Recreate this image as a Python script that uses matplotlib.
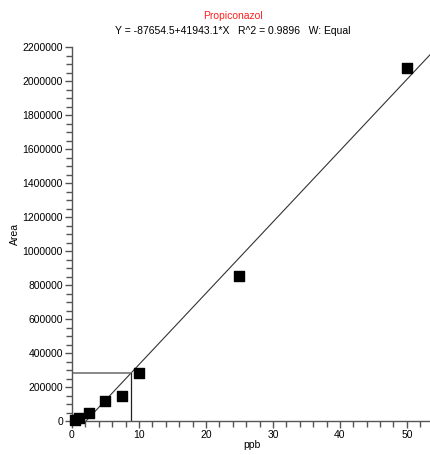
import numpy as np
import matplotlib
matplotlib.use("Agg")
import matplotlib.pyplot as plt
from matplotlib.ticker import MultipleLocator

plt.rcParams["font.family"] = ["Liberation Sans", "DejaVu Sans"]

# Calibration data
conc = [0.5, 1, 2.5, 5, 7.5, 10, 25, 50]
area = [5000, 20000, 50000, 115000, 145000, 284000, 855000, 2075000]

intercept = -87654.5
slope = 41943.1
r2 = 0.9896
sample_area = 284000

fig = plt.figure(figsize=(4.31, 4.55), dpi=100)
ax = fig.add_axes([72 / 431, 1 - 421 / 455, 1 - 72 / 431, (421 - 47) / 455])

xmax = 53.6
ax.set_xlim(0, xmax)
ax.set_ylim(0, 2200000)

# Regression line, starts where it crosses zero
x0 = -intercept / slope
xs = np.array([x0, xmax])
ax.plot(xs, intercept + slope * xs, color="#333333", linewidth=0.8)

# Sample crosshair
sx = (sample_area - intercept) / slope
ax.plot([0, sx], [sample_area, sample_area], color="#7f7f7f", linewidth=1.3)
ax.plot([sx, sx], [0, sample_area], color="#222222", linewidth=0.9)

ax.scatter(conc, area, marker="s", s=42, color="black", zorder=3, clip_on=False)

for s in ["top", "right"]:
    ax.spines[s].set_visible(False)
for s in ["left", "bottom"]:
    ax.spines[s].set_color("#555555")
    ax.spines[s].set_linewidth(1.0)

ax.xaxis.set_major_locator(MultipleLocator(10))
ax.xaxis.set_minor_locator(MultipleLocator(2))
ax.yaxis.set_major_locator(MultipleLocator(200000))
ax.yaxis.set_minor_locator(MultipleLocator(50000))
ax.tick_params(which="major", length=5, width=1, color="#555555", labelsize=7.5, pad=1.5)
ax.tick_params(which="minor", length=4, width=1, color="#555555")
ax.ticklabel_format(axis="y", style="plain")

ax.set_xlabel("ppb", fontsize=7.5, labelpad=0)
ax.set_ylabel("Area", fontsize=7.5, labelpad=2)

fig.text(233 / 431, 1 - 16 / 455, "Propiconazol", color="#ff2020",
         fontsize=7.5, ha="center", va="center")
fig.text(233 / 431, 1 - 31 / 455,
         f"Y = {intercept}+{slope}*X   R^2 = {r2}   W: Equal",
         fontsize=7.5, ha="center", va="center")

plt.savefig("out.png", dpi=100)
